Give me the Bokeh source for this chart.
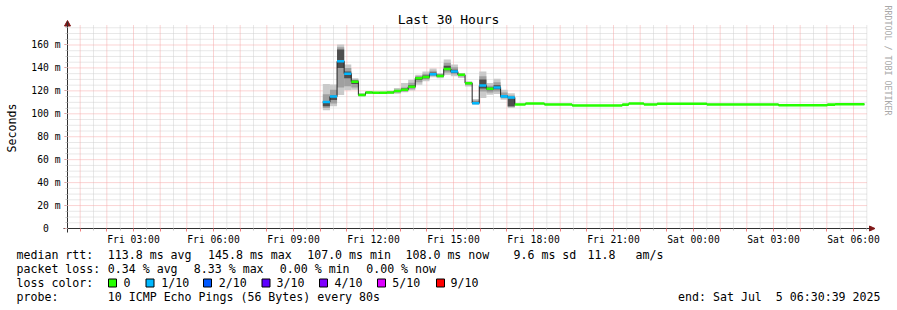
import math
from bokeh.plotting import figure
from bokeh.models import Range1d, FixedTicker, Label
from bokeh.embed import file_html
from bokeh.resources import INLINE

# ---------------- data ----------------
# smoke period: 16-minute consolidated steps starting Fri 10:06 (hours since Fri 00:00)
step_hours = 16.0 / 60.0
smoke_first_step = 10.1
median = [110.2, 115.0, 145.8, 135.0, 128.0, 116.5, 118.6, 118.3, 118.3, 118.6,
          119.8, 121.0, 123.5, 131.0, 132.0, 134.5, 133.0, 139.0, 136.8, 134.0,
          126.7, 109.3, 124.6, 121.9, 123.0, 115.2, 114.3]
loss = [1, 1, 1, 1, 0, 0, 0, 0, 0, 0, 0, 0, 0, 0, 0, 1, 0, 0, 1, 0, 0, 1, 1, 0, 1, 1, 1]
outer_lo = [103.0, 106.5, 116.5, 120.5, 121.0, 115.0, 117.5, 117.3, 117.3, 117.5,
            117.5, 118.7, 120.4, 125.4, 128.3, 131.8, 131.0, 134.0, 132.7, 131.2,
            123.9, 108.0, 113.7, 116.6, 117.2, 112.2, 105.0]
outer_hi = [126.0, 125.5, 160.5, 143.0, 131.0, 118.0, 119.8, 119.3, 119.5, 120.0,
            122.5, 126.8, 129.8, 134.0, 137.0, 139.4, 135.5, 147.3, 143.0, 135.6,
            128.3, 113.0, 137.0, 126.9, 130.6, 121.0, 118.0]
mid_lo = [105.0, 109.0, 123.0, 124.0, 123.0, 115.5, 118.0, 117.8, 117.8, 118.0,
          118.5, 119.5, 121.5, 127.5, 130.0, 133.0, 132.0, 136.0, 134.5, 132.5,
          125.0, 108.5, 119.5, 118.5, 119.5, 113.5, 106.0]
mid_hi = [117.0, 121.0, 158.0, 140.0, 130.0, 117.5, 119.3, 118.8, 119.0, 119.4,
          121.0, 123.0, 127.0, 133.0, 135.0, 137.5, 134.5, 144.5, 140.5, 135.0,
          127.8, 111.5, 132.7, 124.5, 127.5, 118.5, 116.0]
inner_lo = [106.5, 112.0, 140.0, 131.0, 126.0, 116.0, 118.3, 118.0, 118.0, 118.3,
            119.3, 120.3, 122.5, 129.5, 131.0, 134.0, 132.5, 138.0, 135.5, 133.3,
            126.0, 109.0, 122.0, 120.5, 121.5, 114.5, 106.5]
inner_hi = [111.0, 116.0, 156.0, 137.0, 129.0, 117.0, 119.0, 118.6, 118.7, 119.0,
            120.5, 122.0, 125.0, 132.0, 133.5, 136.0, 134.0, 142.0, 138.5, 134.6,
            127.3, 110.5, 130.0, 123.0, 125.0, 116.5, 113.5]

# quiet period afterwards (segment start hour, median ms), loss 0
flat_start = [17.30, 17.70, 18.41, 19.45, 21.33, 21.57, 22.14, 22.64, 24.50, 27.19, 29.02, 29.31]
flat_median = [108.2, 108.9, 108.2, 107.3, 108.0, 108.9, 108.2, 108.8, 108.2, 107.4, 108.0, 108.3]
data_end = 30.41

x_tick_hours = [3, 6, 9, 12, 15, 18, 21, 24, 27, 30]
x_tick_labels = ["Fri 03:00", "Fri 06:00", "Fri 09:00", "Fri 12:00", "Fri 15:00",
                 "Fri 18:00", "Fri 21:00", "Sat 00:00", "Sat 03:00", "Sat 06:00"]
y_ticks = [0, 20, 40, 60, 80, 100, 120, 140, 160]
y_tick_labels = ["0\u00a0\u00a0", "20 m", "40 m", "60 m", "80 m", "100 m", "120 m", "140 m", "160 m"]

loss_names = ["0", "1/10", "2/10", "3/10", "4/10", "5/10", "9/10"]
loss_colors = ["#26ff00", "#00b8ff", "#0059ff", "#5e00ff", "#7e00ff", "#dd00ff", "#ff0000"]

legend_rows = [
    [("median rtt:", 16), ("113.8 ms avg", 107.3), ("145.8 ms max", 207.5), ("107.0 ms min", 306.7),
     ("108.0 ms now", 405.0), ("9.6 ms sd", 513.0), ("11.8", 587.0), ("am/s", 635.0)],
    [("packet loss:", 16), ("0.34 % avg", 107.3), ("8.33 % max", 193.3), ("0.00 % min", 279.3),
     ("0.00 % now", 365.7)],
    [("loss color:", 16)],
    [("probe:", 16), ("10 ICMP Echo Pings (56 Bytes) every 80s", 107.3)],
]
end_text = "end: Sat Jul\u00a0 5 06:30:39 2025"

# ---------------- geometry ----------------
W, H = 897, 310
FL, FR, FT, FB = 67, 867, 25, 228      # chart area in page pixels
X0, X1 = 0.525, 30.525                 # hours shown (Fri 00:31 .. Sat 06:31)
Y0, Y1 = 0.0, 177.0                    # ms shown


def dx(px):
    return X0 + (px - FL) * (X1 - X0) / (FR - FL)


def dy(py):
    return Y0 + (FB - py) * (Y1 - Y0) / (FB - FT)


MONO = "DejaVu Sans Mono"

p = figure(width=W, height=H, x_range=Range1d(dx(0), dx(W)), y_range=Range1d(dy(H), dy(0)),
           output_backend="svg", toolbar_location=None,
           min_border_left=0, min_border_right=0, min_border_top=0, min_border_bottom=0,
           background_fill_color="white", border_fill_color="white", outline_line_color=None)
p.title.visible = False
p.xgrid.visible = False
p.ygrid.visible = False

# ---------------- grid (dotted) ----------------
GRAY = "#d0d0d0"
RED = "#f6a8a8"
hours = list(range(1, 31))
half_hours = [h + 0.5 for h in range(1, 31)]
minor_y = [v for v in range(5, 177, 5) if v % 20 != 0]
major_y = list(range(20, 177, 20))
p.segment(x0=half_hours, x1=half_hours, y0=[Y0] * len(half_hours), y1=[Y1] * len(half_hours),
          line_color=GRAY, line_dash="1 1", line_width=1)
p.segment(x0=[X0] * len(minor_y), x1=[X1] * len(minor_y), y0=minor_y, y1=minor_y,
          line_color=GRAY, line_dash="1 1", line_width=1)
p.segment(x0=hours, x1=hours, y0=[Y0] * len(hours), y1=[Y1] * len(hours),
          line_color=RED, line_dash="1 1", line_width=1)
p.segment(x0=[X0] * len(major_y), x1=[X1] * len(major_y), y0=major_y, y1=major_y,
          line_color=RED, line_dash="1 1", line_width=1)

# ---------------- axes (fixed inside the page frame) ----------------
AXIS_C = "#303030"
ARROW_C = "#801818"
xa = p.xaxis[0]
xa.fixed_location = Y0
xa.bounds = (dx(63), dx(869))
xa.ticker = FixedTicker(ticks=hours, minor_ticks=half_hours)
ov = {h: "" for h in hours}
for h, lab in zip(x_tick_hours, x_tick_labels):
    ov[h] = lab
xa.major_label_overrides = ov
xa.axis_line_color = AXIS_C
xa.major_tick_line_color = "#f08080"
xa.minor_tick_line_color = "#c8c8c8"
xa.major_tick_out = 3
xa.major_tick_in = 0
xa.minor_tick_out = 2
xa.minor_tick_in = 0
xa.major_label_standoff = 2
xa.major_label_text_font = MONO
xa.major_label_text_font_size = "9.7px"
xa.major_label_text_color = "black"

ya = p.yaxis[0]
ya.fixed_location = X0
ya.bounds = (dy(232), dy(21))
ya.ticker = FixedTicker(ticks=y_ticks, minor_ticks=list(range(0, 177, 5)))
ya.major_label_overrides = {v: s for v, s in zip(y_ticks, y_tick_labels)}
ya.axis_line_color = AXIS_C
ya.major_tick_line_color = "#f08080"
ya.minor_tick_line_color = "#c8c8c8"
ya.major_tick_out = 3
ya.major_tick_in = 0
ya.minor_tick_out = 2
ya.minor_tick_in = 0
ya.major_label_standoff = 4
ya.major_label_text_font = MONO
ya.major_label_text_font_size = "9.7px"
ya.major_label_text_color = "black"

# arrow heads
p.patch(x=[dx(869), dx(874.5), dx(869)], y=[dy(225.5), dy(228), dy(230.5)],
        fill_color=ARROW_C, line_color=ARROW_C)
p.patch(x=[dx(64), dx(67), dx(70)], y=[dy(25.5), dy(20), dy(25.5)],
        fill_color=ARROW_C, line_color=ARROW_C)

# ---------------- marks ----------------
n = len(median)
left = [smoke_first_step + i * step_hours for i in range(n)]
right = [l + step_hours for l in left]
for lo, hi, col in [(outer_lo, outer_hi, "#cacaca"), (mid_lo, mid_hi, "#a0a0a0"),
                    (inner_lo, inner_hi, "#4e4e4e")]:
    p.quad(left=left, right=right, bottom=lo, top=hi, fill_color=col, line_color=None)

xs = left + flat_start + [data_end]
ys = median + flat_median + [flat_median[-1]]
p.step(x=xs, y=ys, mode="after", line_color="#202020", line_width=1)

half_band = 1.1
p.quad(left=left, right=right, bottom=[m - half_band for m in median], top=[m + half_band for m in median],
       fill_color=[loss_colors[l] for l in loss], line_color=None)
flat_end = flat_start[1:] + [data_end]
p.quad(left=flat_start, right=flat_end, bottom=[m - half_band for m in flat_median],
       top=[m + half_band for m in flat_median], fill_color=loss_colors[0], line_color=None)


# ---------------- texts ----------------
def label(text, px, py, size="11.6px", align="left", angle=0.0, color="black"):
    p.add_layout(Label(x=dx(px), y=dy(py), text=text, text_font=MONO, text_font_size=size,
                       text_align=align, text_baseline="middle", angle=angle, text_color=color))


label("Last 30 Hours", 448, 19, size="13px", align="center")
label("Seconds", 11, 127.5, align="center", angle=math.pi / 2)
label("RRDTOOL / TOBI OETIKER", 887, 5, size="8.3px", align="left", angle=-math.pi / 2, color="#a8a8a8")

row_y = [254, 268, 282, 296]
for row, yy in zip(legend_rows, row_y):
    for txt, xx in row:
        label(txt, xx, yy)
label(end_text, 880, row_y[3], align="right")

box_left = [108, 145.5, 203, 261.5, 319, 377, 436]
name_left = [123, 160.7, 218.3, 276, 334, 391.7, 450]
for nl, nm in zip(name_left, loss_names):
    label(nm, nl, row_y[2])
p.quad(left=[dx(b) for b in box_left], right=[dx(b + 8) for b in box_left],
       bottom=[dy(286.5)] * len(box_left), top=[dy(278.5)] * len(box_left),
       fill_color=loss_colors, line_color="black", line_width=1)

open("out.html", "w").write(file_html(p, INLINE))
